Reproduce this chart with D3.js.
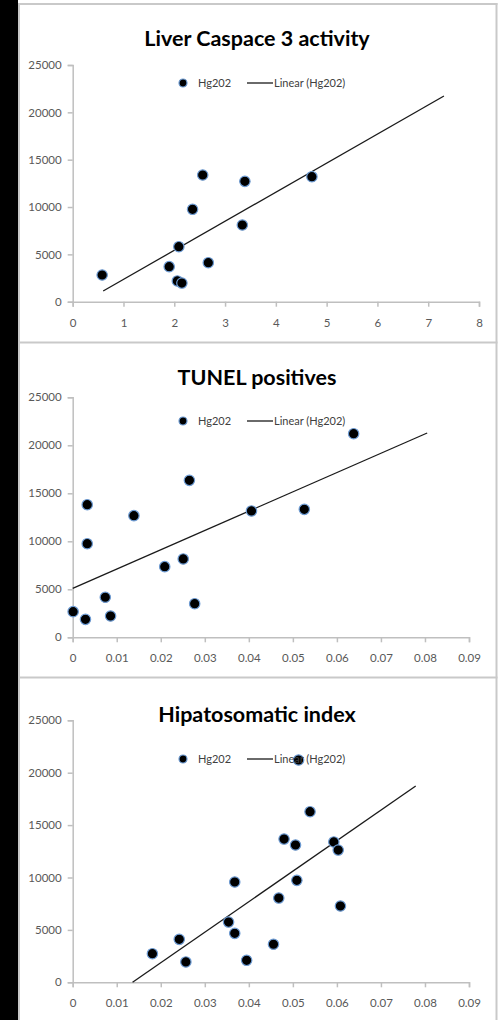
<!DOCTYPE html>
<html>
<head>
<meta charset="utf-8">
<script src="https://cdn.jsdelivr.net/npm/d3@7"></script>
<style>
	html, body { margin: 0; padding: 0; background: #000; }
	svg { display: block; }
	text { font-family: Lato, "Open Sans", sans-serif; }
</style>
</head>
<body>
<svg width="498" height="1020"></svg>
<script>
// chart titles and legend texts
var titles = ["Liver Caspace 3 activity", "TUNEL positives", "Hipatosomatic index"];
var seriesName = "Hg202";
var trendName = "Linear (Hg202)";

// axis ticks
var yTicks = [0, 5000, 10000, 15000, 20000, 25000];
var xTicksCaspase = [0, 1, 2, 3, 4, 5, 6, 7, 8];
var xTicksSmall = [0, 0.01, 0.02, 0.03, 0.04, 0.05, 0.06, 0.07, 0.08, 0.09];

// liver caspace 3 activity (x) vs Hg202 (y)
var caspaseX = [0.58, 1.90, 2.06, 2.15, 2.09, 2.36, 2.56, 2.67, 3.34, 3.39, 4.71];
var caspaseY = [2820, 3700, 2190, 1970, 5810, 9760, 13380, 4120, 8100, 12710, 13200];
var caspaseTrendX = [0.60, 7.31];
var caspaseTrendY = [1130, 21720];

// tunel positives (x) vs Hg202 (y)
var tunelX = [0.0001, 0.0029, 0.0086, 0.0074, 0.0033, 0.0033, 0.0139, 0.0209, 0.0251, 0.0265, 0.0277, 0.0406, 0.0526, 0.0638];
var tunelY = [2670, 1870, 2220, 4170, 13810, 9750, 12670, 7360, 8160, 16350, 3500, 13160, 13330, 21210];
var tunelTrendX = [0, 0.0805];
var tunelTrendY = [5100, 21280];

// hipatosomatic index (x) vs Hg202 (y)
var hsiX = [0.0181, 0.0242, 0.0257, 0.0354, 0.0368, 0.0368, 0.0395, 0.0456, 0.0468, 0.0480, 0.0506, 0.0509, 0.0513, 0.0539, 0.0593, 0.0603, 0.0608];
var hsiY = [2730, 4100, 1940, 5750, 9570, 4670, 2100, 3630, 8040, 13670, 13100, 9730, 21210, 16280, 13390, 12620, 7280];
var hsiTrendX = [0.0136, 0.0779];
var hsiTrendY = [0, 18730];

function zip(xs, ys) {
	return xs.map(function(x, i) { return { x: x, y: ys[i] }; });
}

var svg = d3.select("svg");

// frame: black strip on the left, white sheet, gray panel borders
svg.append("rect").attr("width", 498).attr("height", 1020).attr("fill", "#000");
svg.append("rect").attr("x", 18).attr("y", 0).attr("width", 480).attr("height", 1020).attr("fill", "#fff");

var border = svg.append("g").attr("stroke", "#c9c9c9").attr("stroke-width", 2).attr("fill", "none");
border.append("line").attr("x1", 19).attr("x2", 19).attr("y1", 3).attr("y2", 1020);
border.append("line").attr("x1", 496.5).attr("x2", 496.5).attr("y1", 3).attr("y2", 1020);
border.append("line").attr("x1", 18).attr("x2", 497.5).attr("y1", 4).attr("y2", 4);
border.append("line").attr("x1", 18).attr("x2", 497.5).attr("y1", 342.5).attr("y2", 342.5);
border.append("line").attr("x1", 18).attr("x2", 497.5).attr("y1", 677.5).attr("y2", 677.5);

var panels = [
	{ title: titles[0], points: zip(caspaseX, caspaseY), trend: zip(caspaseTrendX, caspaseTrendY),
		xTicks: xTicksCaspase, xMax: 8, left: 72.7, right: 479, top: 65, bottom: 301.7, titleY: 46, legendY: 83 },
	{ title: titles[1], points: zip(tunelX, tunelY), trend: zip(tunelTrendX, tunelTrendY),
		xTicks: xTicksSmall, xMax: 0.09, left: 72.7, right: 469, top: 397.3, bottom: 637.3, titleY: 385, legendY: 421 },
	{ title: titles[2], points: zip(hsiX, hsiY), trend: zip(hsiTrendX, hsiTrendY),
		xTicks: xTicksSmall, xMax: 0.09, left: 72.7, right: 469, top: 720.3, bottom: 982.3, titleY: 721.7, legendY: 759 }
];

function drawPanel(p) {
	var x = d3.scaleLinear().domain([0, p.xMax]).range([p.left, p.right]);
	var y = d3.scaleLinear().domain([0, 25000]).range([p.bottom, p.top]);

	var g = svg.append("g");

	// axes
	var xAxis = g.append("g")
		.attr("transform", "translate(0," + p.bottom + ")")
		.call(d3.axisBottom(x).tickValues(p.xTicks).tickFormat(function(d) { return String(d); }).tickSize(5).tickPadding(12));
	var yAxis = g.append("g")
		.attr("transform", "translate(" + p.left + ",0)")
		.call(d3.axisLeft(y).tickValues(yTicks).tickFormat(function(d) { return String(d); }).tickSize(5).tickPadding(6));

	[xAxis, yAxis].forEach(function(a) {
		a.select(".domain").attr("stroke", "#bfbfbf").attr("stroke-width", 1.5);
		a.selectAll(".tick line").attr("stroke", "#bfbfbf").attr("stroke-width", 1.5);
		a.selectAll(".tick text")
			.attr("fill", "#595959")
			.style("font-family", "Lato, sans-serif")
			.style("font-size", "11.5px");
	});

	// title
	g.append("text")
		.attr("x", 257)
		.attr("y", p.titleY)
		.attr("text-anchor", "middle")
		.attr("fill", "#000")
		.style("font-size", "21.5px")
		.style("font-weight", "bold")
		.text(p.title);

	// trendline
	g.append("path")
		.datum(p.trend)
		.attr("fill", "none")
		.attr("stroke", "#1a1a1a")
		.attr("stroke-width", 1.3)
		.attr("d", d3.line().x(function(d) { return x(d.x); }).y(function(d) { return y(d.y); }));

	// points
	g.append("g")
		.selectAll("circle")
		.data(p.points)
		.enter()
		.append("circle")
		.attr("r", 5.2)
		.attr("fill", "#000")
		.attr("stroke", "#6d9bd3")
		.attr("stroke-width", 1.2)
		.attr("cx", function(d) { return x(d.x); })
		.attr("cy", function(d) { return y(d.y); });

	// legend
	var lg = g.append("g").attr("transform", "translate(0," + p.legendY + ")");
	lg.append("circle").attr("cx", 183).attr("cy", 0).attr("r", 4).attr("fill", "#000").attr("stroke", "#6d9bd3").attr("stroke-width", 1.2);
	lg.append("text").attr("x", 198).attr("y", 4).attr("fill", "#404040").style("font-size", "11px").text(seriesName);
	lg.append("line").attr("x1", 247).attr("x2", 273).attr("y1", 0).attr("y2", 0).attr("stroke", "#1a1a1a").attr("stroke-width", 1.3);
	lg.append("text").attr("x", 274).attr("y", 4).attr("fill", "#404040").style("font-size", "11px").text(trendName);
}

panels.forEach(drawPanel);
</script>
</body>
</html>
